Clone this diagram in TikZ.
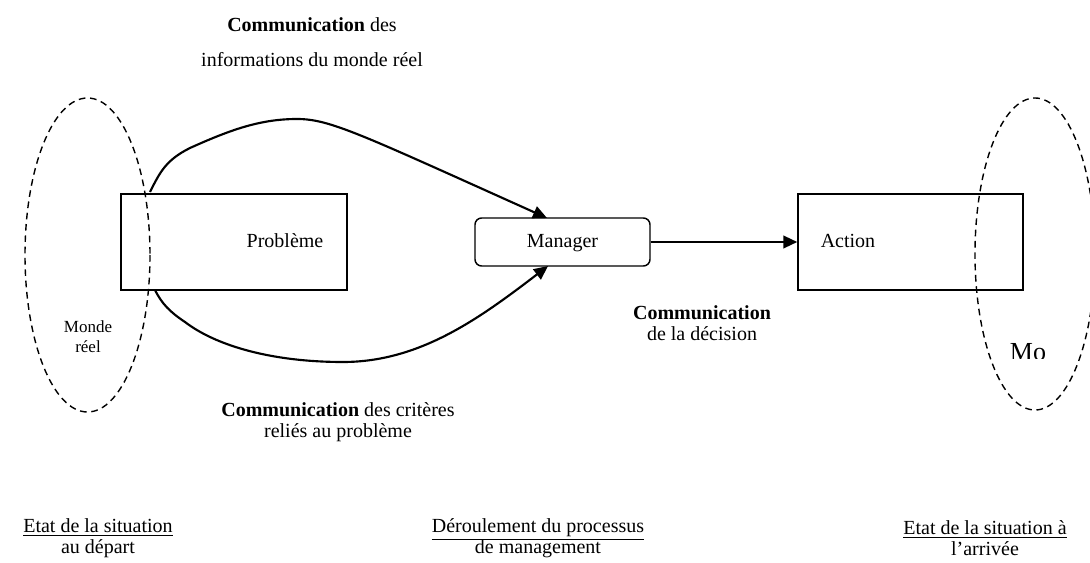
\documentclass[tikz,border=0pt]{standalone}
\usepackage{fontspec}
\setmainfont{Liberation Serif}
\usetikzlibrary{arrows.meta}
\begin{document}
\begin{tikzpicture}[x=0.75pt,y=-0.75pt,
  txt/.style={inner sep=0pt, align=center, font=\fontsize{15}{15.75}\selectfont},
  small/.style={inner sep=0pt, align=center, font=\fontsize{12.75}{15}\selectfont},
  box/.style={draw, line width=1.1pt, inner sep=0pt},
  ell/.style={draw, line width=1.05pt, dash pattern=on 5pt off 3.5pt},
  conn/.style={line width=1.6pt, -{Triangle[length=10.5pt,width=9.5pt]}}]
\useasboundingbox (0,0) rectangle (1090,563);
% ellipses
\draw[ell] (87.5,255) ellipse [x radius=62.5, y radius=157];
\draw[ell] (1035,254) ellipse [x radius=60, y radius=156];
% boxes
\node[box, minimum width=169.5pt, minimum height=72pt] (prob) at (234,242) {};
\node[txt, anchor=base] (probtxt) at (285,247.5) {Problème};
\node[box, rounded corners=5pt, minimum width=131.25pt, minimum height=36pt] (man) at (562.5,242) {};
\node[txt, anchor=base] (mantxt) at (562.5,247.5) {Manager};
\node[box, minimum width=168.75pt, minimum height=72pt] (act) at (910.5,242) {};
\node[txt, anchor=base] (acttxt) at (848,247.5) {Action};
% small texts
\node[small] (monde) at (88,337) {Monde\\réel};
\begin{scope}
\clip (990,330) rectangle (1070,358);
\node[inner sep=0pt, anchor=base, font=\fontsize{19.5}{20}\selectfont] (mo) at (1028,360.5) {Mo};
\end{scope}
% connectors
\coordinate (u0) at (150,192);
\coordinate (mtop) at (547,218);
\coordinate (l0) at (155,290);
\coordinate (mbot) at (548,266);
\draw[conn] (u0) .. controls (160,172) and (166,160) .. (190,148)
  .. controls (230,130) and (260,119) .. (297,119)
  .. controls (330,119) and (360,134) .. (mtop);
\draw[conn] (l0) .. controls (162,304) and (170,312) .. (185,322)
  .. controls (215,345) and (270,362) .. (343,362)
  .. controls (420,362) and (480,318) .. (mbot);
\draw[conn] (man.east) -- (act.west);
% labels
\node[txt] (top1) at (312,25) {\textbf{Communication} des};
\node[txt] (top2) at (312,60) {informations du monde réel};
\node[txt] (crit) at (338,422.5) {\textbf{Communication} des critères\\reliés au problème};
\node[txt] (dec) at (702,323.5) {\textbf{Communication}\\de la décision};
\node[txt] (b1) at (98,538.5) {\underline{Etat de la situation}\\au départ};
\node[txt] (b2) at (538,538.5) {\underline{Déroulement du processus}\\de management};
\node[txt] (b3) at (985,538.5) {\underline{Etat de la situation à}\\l’arrivée};
\end{tikzpicture}
\end{document}
